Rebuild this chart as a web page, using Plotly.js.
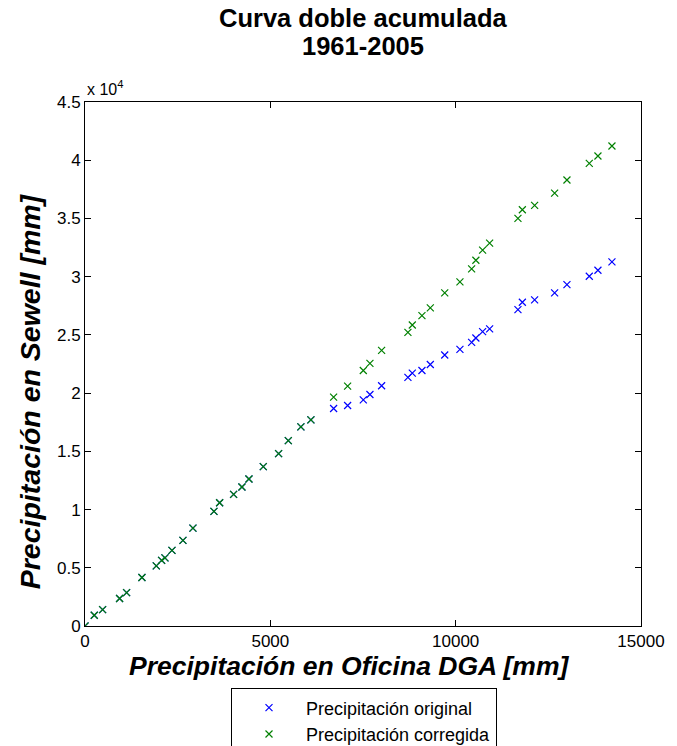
<!DOCTYPE html>
<html>
<head>
<meta charset="utf-8">
<script src="https://cdn.plot.ly/plotly-3.0.1.min.js"></script>
<style>html,body{margin:0;padding:0;background:#fff;}#chart{width:677px;height:746px;}</style>
</head>
<body>
<div id="chart"></div>
<script>
// Cumulative precipitation, Oficina DGA [mm] (x)
const dgaAcum = [0, 250, 475, 933, 1122, 1536, 1923, 2067, 2157, 2346, 2642, 2912, 3479, 3632, 4009, 4234, 4423, 4810, 5223, 5485, 5825, 6095,
  6707, 7085, 7508, 7687, 8002, 8712, 8830, 9090, 9316, 9705, 10115, 10431, 10545, 10727, 10916, 11680, 11799, 12130, 12670, 13002, 13605, 13838, 14216];
// Cumulative precipitation, Sewell original [mm]
const sewellOriginal = [0, 920, 1410, 2360, 2870, 4165, 5165, 5630, 5850, 6490, 7350, 8410, 9845, 10585, 11310, 11935, 12625, 13685, 14800, 15920, 17100, 17700,
  18675, 18935, 19425, 19880, 20630, 21345, 21720, 21945, 22460, 23270, 23750, 24355, 24730, 25275, 25510, 27170, 27800, 28005, 28605, 29320, 30035, 30550, 31275];
// Cumulative precipitation, Sewell corrected [mm]
const sewellCorregida = [0, 920, 1410, 2360, 2870, 4165, 5165, 5630, 5850, 6490, 7350, 8410, 9845, 10585, 11310, 11935, 12625, 13685, 14800, 15920, 17100, 17700,
  19655, 20600, 21945, 22550, 23665, 25215, 25850, 26650, 27315, 28605, 29550, 30670, 31410, 32275, 32875, 35000, 35750, 36120, 37180, 38300, 39735, 40365, 41225];

const xTickVals = [0, 5000, 10000, 15000];
const xTickText = ['0', '5000', '10000', '15000'];
const yTickVals = [0, 5000, 10000, 15000, 20000, 25000, 30000, 35000, 40000, 45000];
const yTickText = ['0', '0.5', '1', '1.5', '2', '2.5', '3', '3.5', '4', '4.5'];

const titleLines = ['Curva doble acumulada', '1961-2005'];
const xTitle = 'Precipitación en Oficina DGA [mm]';
const yTitle = 'Precipitación en Sewell [mm]';

const FONT = 'Liberation Sans, Arial, sans-serif';

const traces = [
  {x: dgaAcum, y: sewellOriginal, name: 'Precipitación original', type: 'scatter', mode: 'markers',
   marker: {symbol: 'x-thin-open', size: 7, color: '#0000FF', line: {color: '#0000FF', width: 1.2}}},
  {x: dgaAcum, y: sewellCorregida, name: 'Precipitación corregida', type: 'scatter', mode: 'markers',
   marker: {symbol: 'x-thin-open', size: 7, color: '#008000', line: {color: '#008000', width: 1.2}}}
];

const layout = {
  width: 677, height: 746,
  margin: {l: 85, r: 36, t: 102, b: 120, autoexpand: false},
  paper_bgcolor: '#fff', plot_bgcolor: '#fff',
  font: {family: FONT, size: 17, color: '#000'},
  showlegend: true,
  legend: {x: 0.2626, y: -0.119, xanchor: 'left', yanchor: 'top', xref: 'paper', yref: 'paper', itemwidth: 64,
           bordercolor: '#000', borderwidth: 1, bgcolor: '#fff', font: {family: FONT, size: 18, color: '#000'}},
  xaxis: {range: [0, 15000], tickvals: xTickVals, ticktext: xTickText, ticks: 'inside', ticklen: 6, tickcolor: '#000',
          showline: true, linecolor: '#000', linewidth: 1, mirror: 'ticks', showgrid: false, zeroline: false,
          tickfont: {family: FONT, size: 17}},
  yaxis: {range: [0, 45000], tickvals: yTickVals, ticktext: yTickText, ticks: 'inside', ticklen: 6, tickcolor: '#000',
          showline: true, linecolor: '#000', linewidth: 1, mirror: 'ticks', showgrid: false, zeroline: false,
          tickfont: {family: FONT, size: 17}},
  annotations: [
    {text: '<b>' + titleLines[0] + '</b>', xref: 'paper', yref: 'paper', x: 0.5, y: 1.1604, xanchor: 'center', yanchor: 'middle',
     showarrow: false, font: {family: FONT, size: 25.5, color: '#000'}},
    {text: '<b>' + titleLines[1] + '</b>', xref: 'paper', yref: 'paper', x: 0.5, y: 1.1069, xanchor: 'center', yanchor: 'middle',
     showarrow: false, font: {family: FONT, size: 25.5, color: '#000'}},
    {text: '<b><i>' + xTitle + '</i></b>', xref: 'paper', yref: 'paper', x: 0.475, y: -0.077, xanchor: 'center', yanchor: 'middle',
     showarrow: false, font: {family: FONT, size: 26.5, color: '#000'}},
    {text: '<b><i>' + yTitle + '</i></b>', xref: 'paper', yref: 'paper', x: -0.0989, y: 0.448, xanchor: 'center', yanchor: 'middle',
     textangle: -90, showarrow: false, font: {family: FONT, size: 28.5, color: '#000'}},
    {text: 'x 10<sup>4</sup>', xref: 'paper', yref: 'paper', x: 0, y: 1, xanchor: 'left', yanchor: 'bottom',
     showarrow: false, font: {family: FONT, size: 16, color: '#000'}, yshift: 2}
  ]
};

Plotly.newPlot('chart', traces, layout, {displayModeBar: false, staticPlot: true});
</script>
</body>
</html>
